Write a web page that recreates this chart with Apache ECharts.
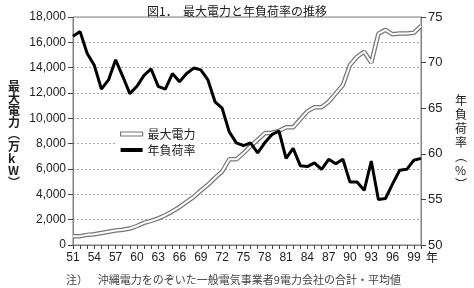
<!DOCTYPE html>
<html>
<head>
<meta charset="utf-8">
<script src="https://cdn.jsdelivr.net/npm/echarts@6/dist/echarts.min.js"></script>
<style>
  html, body { margin: 0; padding: 0; background: #fff; }
  #chart { width: 474px; height: 288px; }
</style>
</head>
<body>
<div id="chart"></div>
<script>
// 年 (51 = 1951 ... 00 = 2000)
const years = ['51', '52', '53', '54', '55', '56', '57', '58', '59', '60',
  '61', '62', '63', '64', '65', '66', '67', '68', '69', '70',
  '71', '72', '73', '74', '75', '76', '77', '78', '79', '80',
  '81', '82', '83', '84', '85', '86', '87', '88', '89', '90',
  '91', '92', '93', '94', '95', '96', '97', '98', '99', '00']

// 最大電力 (万kW)
const maxPower = [700, 700, 800, 850, 950, 1050, 1150, 1200, 1300, 1500,
  1750, 1900, 2100, 2350, 2650, 3000, 3400, 3800, 4300, 4750,
  5300, 5800, 6760, 6760, 7250, 7800, 8300, 8820, 8870, 9000,
  9290, 9290, 9920, 10550, 10870, 10870, 11310, 11970, 12630, 14210,
  14860, 15260, 14390, 16680, 16990, 16630, 16700, 16700, 16750, 17300]

// 年負荷率 (%)
const loadFactor = [72.9, 73.4, 71.0, 69.7, 67.1, 68.1, 70.3, 68.5, 66.6, 67.4,
  68.6, 69.3, 67.4, 67.1, 68.8, 67.9, 68.8, 69.4, 69.2, 68.1,
  65.7, 65.0, 62.4, 61.2, 60.9, 61.2, 60.1, 61.2, 62.1, 62.5,
  59.5, 60.6, 58.7, 58.6, 59.0, 58.3, 59.4, 58.9, 59.4, 56.9,
  56.9, 56.0, 59.2, 55.0, 55.1, 56.7, 58.2, 58.3, 59.3, 59.5]

const numFont = "'Liberation Sans', 'Noto Sans CJK JP', sans-serif"
const jpFont = "'Noto Sans CJK JP', sans-serif"
const axisGray = '#808080'

const chart = echarts.init(document.getElementById('chart'))

const option = {
  animation: false,
  title: {
    text: '図1．  最大電力と年負荷率の推移',
    left: 232,
    textAlign: 'center',
    top: 0,
    textStyle: { fontFamily: jpFont, fontSize: 12, fontWeight: 'normal', color: '#222' }
  },
  legend: {
    orient: 'vertical',
    left: 116,
    top: 126,
    itemWidth: 22,
    itemHeight: 4,
    itemGap: 4,
    backgroundColor: '#fff',
    padding: [2, 4, 2, 4],
    textStyle: { fontFamily: jpFont, fontSize: 12, color: '#222' },
    data: [
      { name: '最大電力', icon: 'rect', itemStyle: { color: '#fff', borderColor: '#777', borderWidth: 1.2 } },
      { name: '年負荷率', icon: 'rect', itemStyle: { color: '#000' } }
    ]
  },
  grid: {
    left: 73,
    right: 53,
    top: 17,
    bottom: 43,
    show: true,
    borderColor: axisGray,
    borderWidth: 1
  },
  xAxis: {
    type: 'category',
    data: years,
    boundaryGap: false,
    axisLine: { lineStyle: { color: axisGray } },
    axisTick: { interval: 0, length: 4, lineStyle: { color: '#444' } },
    axisLabel: { interval: 2, color: '#222', fontFamily: numFont, fontSize: 12, margin: 7 }
  },
  yAxis: [
    {
      type: 'value',
      min: 0,
      max: 18000,
      interval: 2000,
      axisLine: { show: true, lineStyle: { color: axisGray } },
      axisTick: { show: true, length: 5, lineStyle: { color: '#444' } },
      axisLabel: {
        color: '#222',
        fontFamily: numFont,
        fontSize: 12,
        margin: 7,
        formatter: (v) => v.toLocaleString('en-US')
      },
      splitLine: { lineStyle: { color: '#aaa', type: [2, 2] } }
    },
    {
      type: 'value',
      min: 50,
      max: 75,
      interval: 5,
      axisLine: { show: true, lineStyle: { color: axisGray } },
      axisTick: { show: true, length: 5, lineStyle: { color: '#444' } },
      axisLabel: { color: '#222', fontFamily: numFont, fontSize: 13, margin: 7 },
      splitLine: { show: false }
    }
  ],
  series: [
    {
      name: '最大電力',
      type: 'line',
      data: maxPower,
      yAxisIndex: 0,
      symbol: 'none',
      lineStyle: { color: '#777', width: 4.5 },
      itemStyle: { color: '#777' }
    },
    {
      // white core of the double line
      name: '最大電力_inner',
      type: 'line',
      data: maxPower,
      yAxisIndex: 0,
      symbol: 'none',
      lineStyle: { color: '#fff', width: 2 }
    },
    {
      name: '年負荷率',
      type: 'line',
      data: loadFactor,
      yAxisIndex: 1,
      symbol: 'none',
      lineStyle: { color: '#000', width: 3 },
      itemStyle: { color: '#000' }
    }
  ],
  graphic: [
    {
      type: 'text',
      left: 8,
      top: 80,
      style: {
        text: '最\n大\n電\n力\n︵\n万\nk\nW\n︶',
        font: "bold 12px 'Noto Sans CJK JP', sans-serif",
        fill: '#222',
        lineHeight: 12,
        align: 'center',
        width: 14
      }
    },
    {
      type: 'text',
      left: 455,
      top: 93,
      style: {
        text: '年\n負\n荷\n率\n︵\n%\n︶',
        font: "12px 'Noto Sans CJK JP', sans-serif",
        fill: '#222',
        lineHeight: 14,
        align: 'center',
        width: 14
      }
    },
    {
      type: 'text',
      left: 426,
      top: 251,
      style: { text: '年', font: "12px 'Noto Sans CJK JP', sans-serif", fill: '#222' }
    },
    {
      type: 'text',
      left: 66,
      top: 274,
      style: {
        text: '注）    沖縄電力をのぞいた一般電気事業者9電力会社の合計・平均値',
        font: "11px 'Noto Sans CJK JP', sans-serif",
        fill: '#444'
      }
    }
  ]
}

option && chart.setOption(option)
</script>
</body>
</html>
